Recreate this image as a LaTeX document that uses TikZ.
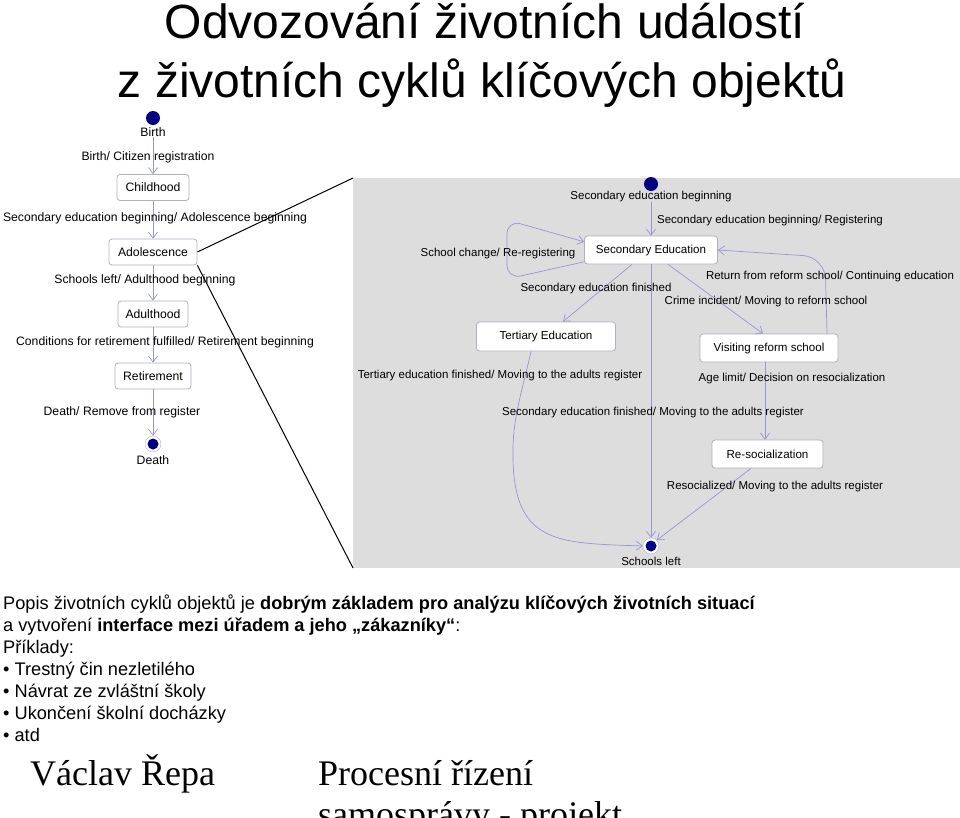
\documentclass[tikz,border=0pt]{standalone}
\usepackage{fontspec}
\setmainfont{Liberation Sans}
\newfontfamily\seriffont{Liberation Serif}
\usetikzlibrary{arrows.meta}
\definecolor{navy}{RGB}{0,0,128}
\definecolor{lav}{RGB}{150,150,215}
\definecolor{boxline}{RGB}{175,175,190}
\definecolor{bggrey}{RGB}{221,221,221}
\begin{document}
\begin{tikzpicture}[x=1pt,y=-1pt,
  state/.style={draw=boxline, fill=white, rounded corners=3pt, font=\fontsize{12.2}{14}\selectfont, minimum height=26pt, inner sep=0pt, line width=0.8pt},
  rstate/.style={state, font=\fontsize{11.6}{14}\selectfont},
  lbl/.style={font=\fontsize{12.2}{14}\selectfont, inner sep=0pt},
  rlbl/.style={font=\fontsize{11.5}{14}\selectfont, inner sep=0pt},
  conn/.style={draw=lav, line width=0.7pt, -{Straight Barb[length=6pt,width=9pt]}},
  initst/.style={circle, fill=navy, minimum size=14pt, inner sep=0pt},
  finalst/.style={circle, draw=boxline, fill=white, minimum size=16pt, inner sep=0pt, path picture={\fill[navy] (path picture bounding box.center) circle (5.5pt);}},
  titletext/.style={font=\fontsize{48}{54}\selectfont, inner sep=0pt, anchor=base},
  body/.style={font=\fontsize{18.2}{21}\selectfont, inner sep=0pt, anchor=base west},
  sertext/.style={font=\seriffont\fontsize{36}{40}\selectfont, inner sep=0pt, anchor=base west},
  zoomline/.style={draw=black, line width=1pt}
]
\useasboundingbox (0,0) rectangle (960,817);
\clip (0,0) rectangle (960,817);

% title
\node[titletext] (t1) at (485,38) {Odvozování životních událostí};
\node[titletext] (t2) at (482,97) {z životních cyklů klíčových objektů};

% grey detail area
\coordinate (greyNW) at (353,178);
\coordinate (greySE) at (960,568);
\coordinate (greySW) at (353,568);
\fill[bggrey] (greyNW) rectangle (greySE);

% left state chart
\node[initst] (birth) at (153,118) {};
\node[lbl] (birthlbl) at (153,132) {Birth};
\node[state, minimum width=72pt] (child) at (153,187.5) {Childhood};
\node[state, minimum width=88pt] (adol) at (153,252) {Adolescence};
\node[state, minimum width=70pt] (adult) at (153,314) {Adulthood};
\node[state, minimum width=76pt] (retire) at (153,376) {Retirement};
\node[finalst] (death) at (153,444) {};
\node[lbl] (deathlbl) at (153,460) {Death};

\draw[conn] (birthlbl.south) -- (child.north);
\draw[conn] (child) -- (adol);
\draw[conn] (adol) -- (adult);
\draw[conn] (adult) -- (retire);
\draw[conn] (retire) -- (death);

\node[lbl] (l1) at (148,157) {Birth/ Citizen registration};
\node[lbl] (l2) at (155,218) {Secondary education beginning/ Adolescence beginning};
\node[lbl] (l3) at (145,280) {Schools left/ Adulthood beginning};
\node[lbl] (l4) at (165,342) {Conditions for retirement fulfilled/ Retirement beginning};
\node[lbl] (l5) at (122,412) {Death/ Remove from register};

% zoom lines
\draw[zoomline] (adol.east) -- (greyNW);
\draw[zoomline] (adol.south east) -- (greySW);

% right state chart
\node[initst] (secinit) at (651,184) {};
\node[rlbl] (secinitlbl) at (651,196.5) {Secondary education beginning};
\node[rstate, minimum width=133pt, minimum height=28pt] (sec) at (651,250) {Secondary Education};
\node[rstate, minimum width=139pt, minimum height=29pt] (tert) at (546,336.5) {Tertiary Education};
\node[rstate, minimum width=138pt, minimum height=28pt] (visit) at (769,348) {Visiting reform school};
\node[rstate, minimum width=111pt, minimum height=28pt] (resoc) at (767.5,454) {Re-socialization};
\node[finalst] (schools) at (651,546) {};
\node[rlbl] (schoolslbl) at (651,561) {Schools left};

\draw[conn] (secinitlbl.south) -- (sec.north);
\draw[conn] (sec.south) -- (schools.north);
\draw[conn, rounded corners=14pt] (sec.190) -- (507,279) -- (507,220) -- (sec.173);
\draw[conn] ([xshift=-19pt]sec.south) -- ([xshift=17pt]tert.north);
\draw[conn] ([xshift=17pt]sec.south) -- ([xshift=-6pt]visit.north);
\draw[conn, rounded corners=22pt] ([xshift=58pt]visit.north) -- (825,257) -- (sec.east);
\draw[conn] ([xshift=-4pt]visit.south) -- ([xshift=-2.5pt]resoc.north);
\draw[conn] ([xshift=-16.5pt]resoc.south) -- (schools.45);
\draw[conn] ([xshift=-15pt]tert.south) .. controls (520,400) and (512,420) .. (513,460) .. controls (515,545) and (560,543) .. (schools.west);

\node[rlbl] (r1) at (770,221) {Secondary education beginning/ Registering};
\node[rlbl] (r2) at (498,254) {School change/ Re-registering};
\node[rlbl] (r3) at (596,289) {Secondary education finished};
\node[rlbl] (r4) at (830,277) {Return from reform school/ Continuing education};
\node[rlbl] (r5) at (766,302) {Crime incident/ Moving to reform school};
\node[rlbl] (r6) at (500,376) {Tertiary education finished/ Moving to the adults register};
\node[rlbl] (r7) at (653,413) {Secondary education finished/ Moving to the adults register};
\node[rlbl] (r8) at (792,379) {Age limit/ Decision on resocialization};
\node[rlbl] (r9) at (775,487) {Resocialized/ Moving to the adults register};

% body text
\node[body] (b1) at (3,609) {Popis životních cyklů objektů je \textbf{dobrým základem pro analýzu klíčových životních situací}};
\node[body] (b2) at (3,631) {a vytvoření \textbf{interface mezi úřadem a jeho „zákazníky“}:};
\node[body] (b3) at (3,653) {Příklady:};
\node[body] (b4) at (3,675) {\textbullet{} Trestný čin nezletilého};
\node[body] (b5) at (3,697) {\textbullet{} Návrat ze zvláštní školy};
\node[body] (b6) at (3,719) {\textbullet{} Ukončení školní docházky};
\node[body] (b7) at (3,741) {\textbullet{} atd};

\node[sertext] (author) at (30,785) {Václav Řepa};
\node[sertext] (proj1) at (318,785) {Procesní řízení};
\node[sertext] (proj2) at (318,826) {samosprávy - projekt};
\end{tikzpicture}
\end{document}
